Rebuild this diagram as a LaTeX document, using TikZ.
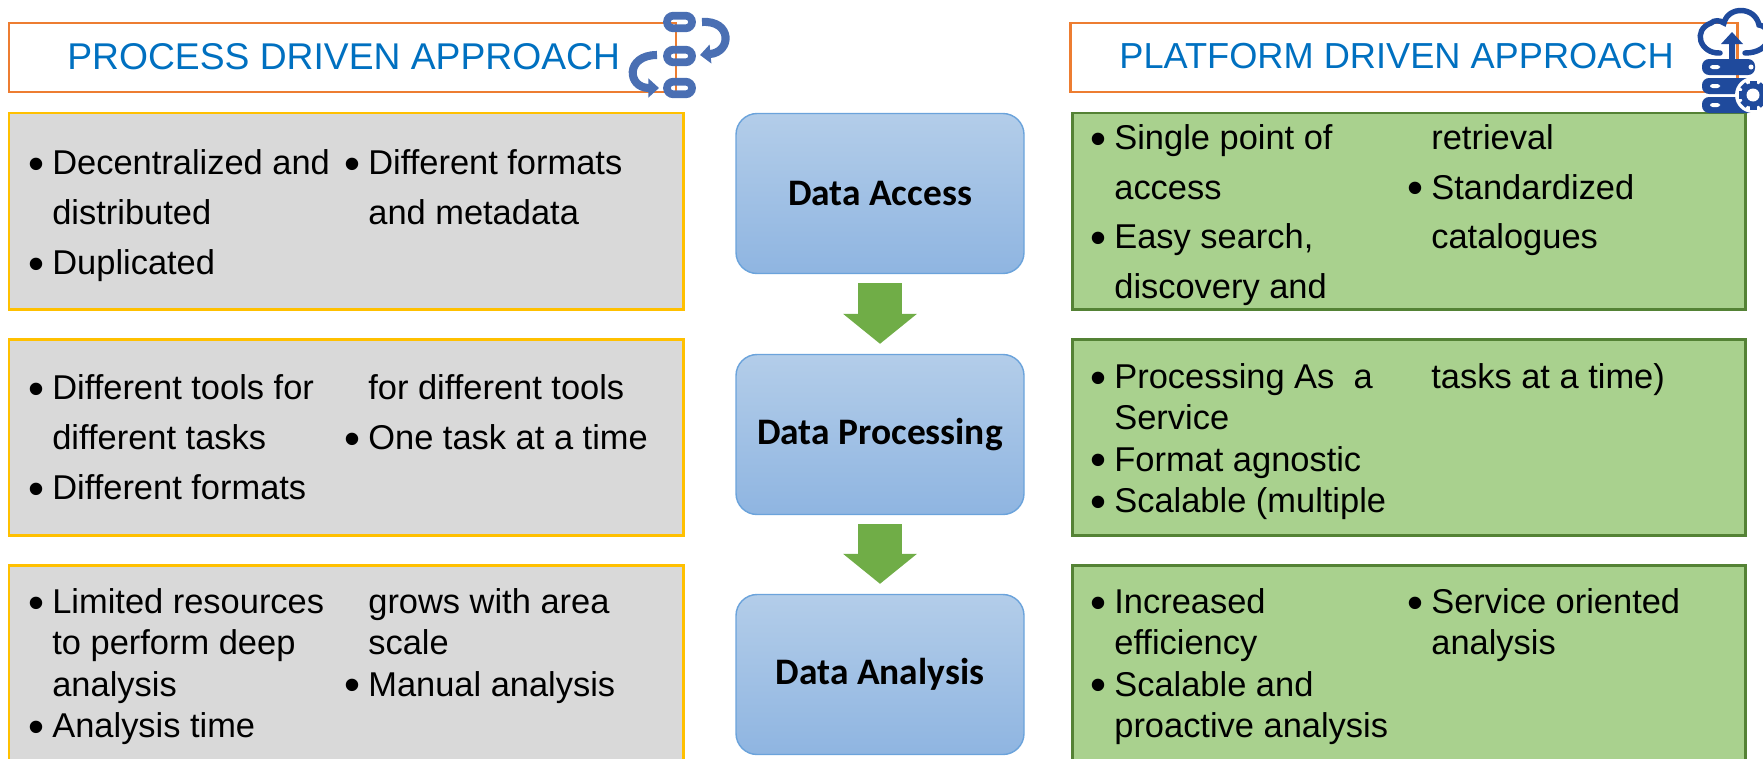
\documentclass[tikz,border=0pt]{standalone}
\usepackage{fontspec}
\setmainfont{Liberation Sans}
\newfontfamily\calibrifont{Carlito}
\usetikzlibrary{shapes,arrows.meta,calc}
\definecolor{headblue}{HTML}{0070C0}
\definecolor{headline}{HTML}{ED7D31}
\definecolor{grayfill}{HTML}{D9D9D9}
\definecolor{grayline}{HTML}{FFC000}
\definecolor{greenfill}{HTML}{A9D18E}
\definecolor{greenline}{HTML}{548235}
\definecolor{stagetop}{HTML}{B3CDE9}
\definecolor{stagebot}{HTML}{8FB5E1}
\definecolor{stageline}{HTML}{6BA3DB}
\definecolor{flowgreen}{HTML}{70AD47}
\definecolor{chainblue}{HTML}{4A6FB3}
\definecolor{serverblue}{HTML}{1F4A9C}
\tikzstyle{header} = [rectangle, draw=headline, line width=1.5pt, minimum width=667*0.02cm, minimum height=69*0.02cm]
\tikzstyle{headtext} = [text=headblue, inner sep=0pt]
\tikzstyle{graybox} = [rectangle, draw=grayline, fill=grayfill, line width=1.7pt, minimum width=674*0.02cm, minimum height=196*0.02cm]
\tikzstyle{greenbox} = [rectangle, draw=greenline, fill=greenfill, line width=1.7pt, minimum width=673*0.02cm, minimum height=196*0.02cm]
\tikzstyle{stage} = [rectangle, rounded corners=12pt, draw=stageline, line width=0.8pt, top color=stagetop, bottom color=stagebot, minimum width=288*0.02cm, minimum height=160*0.02cm, font=\calibrifont\bfseries\fontsize{21.3}{25}\selectfont]
\tikzstyle{flow} = [draw=flowgreen, line width=25pt, shorten <=9*0.02cm, shorten >=10*0.02cm, -{Triangle[length=17pt,width=41pt]}]
\tikzstyle{textcol} = [anchor=north west, align=left, inner sep=0pt, font=\fontsize{19.6}{#1}\selectfont]
\tikzstyle{chainarrow} = [draw=chainblue, line width=4.6pt, -{Triangle[length=6pt,width=10.5pt]}]
\newcommand{\bl}{\makebox[0.46cm][l]{\hspace*{-0.6pt}\raisebox{-2.8pt}{\fontsize{26}{26}\selectfont\textbullet}}}
\newcommand{\cn}{\hspace*{0.46cm}}
\begin{document}
\begin{tikzpicture}[x=0.02cm, y=-0.02cm]
      \useasboundingbox (0, 0) rectangle (1763, 758);
      \clip (0, 0) rectangle (1763, 758);
      \pgfmathsetmacro{\leftx}{346}
      \pgfmathsetmacro{\rightx}{1408.5}
      \pgfmathsetmacro{\midx}{880}
      % headers
      \node [header] at (342.5, 57.5) (h1) {};
      \node [header] at (1404, 57.5) (h2) {};
      \node [headtext, anchor=west, font=\fontsize{21.2}{25}\selectfont] at (67, 56.5) (h1t) {PROCESS DRIVEN APPROACH};
      \node [headtext, anchor=west, font=\fontsize{20.6}{25}\selectfont] at (1119, 56.5) (h2t) {PLATFORM DRIVEN APPROACH};
      % boxes
      \node [graybox] at (\leftx, 211) (g1) {};
      \node [graybox] at (\leftx, 437) (g2) {};
      \node [graybox] at (\leftx, 663) (g3) {};
      \node [greenbox] at (\rightx, 211) (r1) {};
      \node [greenbox] at (\rightx, 437) (r2) {};
      \node [greenbox] at (\rightx, 663) (r3) {};
      % stages
      \node [stage] at (\midx, 193.5) (access) {Data Access};
      \node [stage] at (\midx, 434.5) (processing) {Data Processing};
      \node [stage] at (\midx, 674.5) (analysis) {Data Analysis};
      \path [flow] (access) -- (processing);
      \path [flow] (processing) -- (analysis);
      % left texts
      \node [textcol=28.3pt] at (29, 149.5) (g1a) {\bl Decentralized and\\\cn distributed\\\bl Duplicated};
      \node [textcol=28.3pt] at (345, 149.5) (g1b) {\bl Different formats\\\cn and metadata};
      \node [textcol=28.3pt] at (29, 374.5) (g2a) {\bl Different tools for\\\cn different tasks\\\bl Different formats};
      \node [textcol=28.3pt] at (345, 374.5) (g2b) {\cn for different tools\\\bl One task at a time};
      \node [textcol=23.4pt] at (29, 588.5) (g3a) {\bl Limited resources\\\cn to perform deep\\\cn analysis\\\bl Analysis time};
      \node [textcol=23.4pt] at (345, 588.5) (g3b) {\cn grows with area\\\cn scale\\\bl Manual analysis};
      % right texts
      \node [textcol=28.3pt] at (1091, 124) (r1a) {\bl Single point of\\\cn access\\\bl Easy search,\\\cn discovery and};
      \node [textcol=28.3pt] at (1408, 124) (r1b) {\cn retrieval\\\bl Standardized\\\cn catalogues};
      \node [textcol=23.4pt] at (1091, 363.5) (r2a) {\bl Processing As\ \ a\\\cn Service\\\bl Format agnostic\\\bl Scalable (multiple};
      \node [textcol=23.4pt] at (1408, 363.5) (r2b) {\cn tasks at a time)};
      \node [textcol=23.4pt] at (1091, 588.5) (r3a) {\bl Increased\\\cn efficiency\\\bl Scalable and\\\cn proactive analysis};
      \node [textcol=23.4pt] at (1408, 588.5) (r3b) {\bl Service oriented\\\cn analysis};
      % chain icon
      \foreach \py in {22, 56, 88} {
        \draw [chainblue, line width=4.4pt, rounded corners=3.5pt] (667, \py - 6.25) rectangle (692, \py + 6.25);
      }
      \draw [chainarrow] (702, 22) .. controls (732, 20) and (732, 52) .. (700, 55);
      \draw [chainarrow] (657, 55) .. controls (625, 55) and (627, 88) .. (659, 88);
      % server icon
      \draw [serverblue, line width=3.1pt, line cap=round] (1720, 53) .. controls (1700, 54) and (1692, 30) .. (1711, 23) .. controls (1714, 20) and (1720, 20) .. (1724, 23) .. controls (1728, 6) and (1755, 6) .. (1759, 25) .. controls (1775, 28) and (1772, 53) .. (1745, 53);
      \fill [serverblue] (1729, 60) -- (1729, 44) -- (1721, 44) -- (1732, 32) -- (1743, 44) -- (1735, 44) -- (1735, 60) -- cycle;
      \foreach \py in {59, 78, 97} {
        \fill [serverblue, rounded corners=4pt] (1702, \py) rectangle (1755, \py + 16);
        \fill [white, rounded corners=1.5pt] (1710, \py + 6) rectangle (1720, \py + 10);
      }
      \fill [white] (1751, 67) circle (2.5);
      \fill [white] (1753, 95) circle (18);
      \foreach \a in {0, 45, ..., 315} {
        \draw [serverblue, line width=4pt] (1753, 95) -- +(\a:14.5);
      }
      \draw [serverblue, line width=4pt] (1753, 95) circle (8.5);
      \fill [white] (1753, 95) circle (6.5);
    \end{tikzpicture}
\end{document}
